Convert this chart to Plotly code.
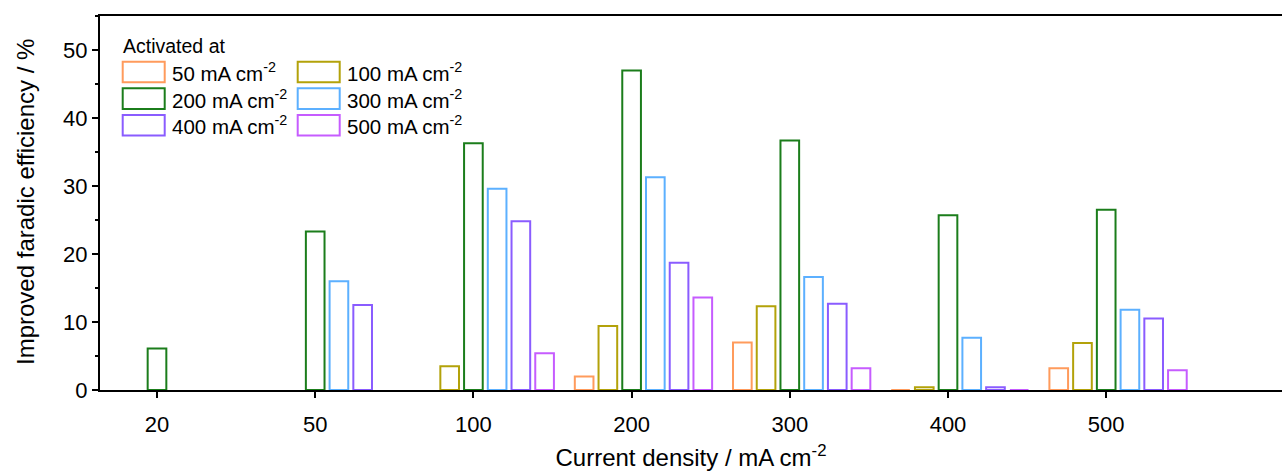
import plotly.graph_objects as go

# ---- data ----
categories = ["20", "50", "100", "200", "300", "400", "500"]
series_names = ["50", "100", "200", "300", "400", "500"]
fe_50 = [None, None, None, 2.0, 7.0, 0.0, 3.2]
fe_100 = [None, None, 3.5, 9.4, 12.3, 0.4, 6.9]
fe_200 = [6.1, 23.3, 36.3, 47.0, 36.7, 25.7, 26.5]
fe_300 = [None, 16.0, 29.6, 31.3, 16.6, 7.7, 11.8]
fe_400 = [None, 12.5, 24.8, 18.7, 12.7, 0.4, 10.5]
fe_500 = [None, None, 5.4, 13.6, 3.2, 0.0, 2.9]
series_values = [fe_50, fe_100, fe_200, fe_300, fe_400, fe_500]
colors = ["#FF9B5C", "#B3A20A", "#1B7D1B", "#5CB0FF", "#8A5CFF", "#C65CFF"]

FONT = "Liberation Sans, Arial, sans-serif"

# layout geometry (pixels)
W, H = 1282, 471
L, T, B = 100, 16, 390
R = W
pitch = 0.15
bw = 0.118

fig = go.Figure()
xs = list(range(len(categories)))
for k, (name, vals, col) in enumerate(zip(series_names, series_values, colors)):
    fig.add_trace(go.Bar(
        x=xs, y=vals, name=name,
        offset=(k - 2) * pitch - bw / 2, width=bw,
        marker=dict(color="rgba(255,255,255,0)", line=dict(color=col, width=2)),
        showlegend=False,
    ))

def px_x(p):
    return (p - L) / (R - L)

def px_y(p):
    return (B - p) / (B - T)

# custom two-column legend
shapes = []
annotations = []
annotations.append(dict(x=px_x(121), y=px_y(46), xref="paper", yref="paper",
                        text="Activated at", showarrow=False, xanchor="left", yanchor="middle",
                        font=dict(family=FONT, size=19.5, color="#000")))
box_x = [122.7, 297.7]
text_x = [170, 345]
row_top = [61.7, 88.3, 115.0]
for k, (name, col) in enumerate(zip(series_names, colors)):
    r, c = divmod(k, 2)
    x0 = box_x[c]
    y0 = row_top[r]
    shapes.append(dict(type="rect", xref="paper", yref="paper",
                       x0=px_x(x0), x1=px_x(x0 + 42), y0=px_y(y0), y1=px_y(y0 + 20.6),
                       line=dict(color=col, width=2), fillcolor="rgba(0,0,0,0)"))
    annotations.append(dict(x=px_x(text_x[c]), y=px_y(y0 + 10.3), xref="paper", yref="paper",
                            text=f"{name} mA cm<sup>-2</sup>", showarrow=False,
                            xanchor="left", yanchor="middle",
                            font=dict(family=FONT, size=20.5, color="#000")))

# y-axis title as rotated annotation
annotations.append(dict(x=px_x(25), y=px_y(202), xref="paper", yref="paper",
                        text="Improved faradic efficiency / %", showarrow=False,
                        textangle=-90, xanchor="center", yanchor="middle",
                        font=dict(family=FONT, size=24, color="#000")))

spacing = 158.2
x0pos = 157.0
fig.update_layout(
    width=W, height=H,
    margin=dict(l=L, r=0, t=T, b=H - B, pad=0),
    paper_bgcolor="white", plot_bgcolor="white",
    barmode="overlay",
    shapes=shapes, annotations=annotations,
    font=dict(family=FONT, color="#000"),
    xaxis=dict(
        range=[(L - x0pos) / spacing, (R - x0pos) / spacing],
        tickmode="array", tickvals=xs, ticktext=categories,
        showline=True, linecolor="#000", linewidth=2, mirror=True,
        ticks="outside", ticklen=6, tickwidth=1.5, tickcolor="#000",
        showgrid=False, zeroline=False,
        tickfont=dict(family=FONT, size=22),
        ticklabelstandoff=8,
        title=dict(text="Current density / mA cm<sup>-2</sup>",
                   font=dict(family=FONT, size=24), standoff=13),
    ),
    yaxis=dict(
        range=[0, 55],
        tickmode="array", tickvals=[0, 10, 20, 30, 40, 50],
        showline=True, linecolor="#000", linewidth=2, mirror=False,
        ticks="outside", ticklen=6, tickwidth=1.5, tickcolor="#000",
        minor=dict(tickvals=[5, 15, 25, 35, 45, 55], ticks="outside", ticklen=3, tickwidth=1.5, tickcolor="#000"),
        showgrid=False, zeroline=False,
        tickfont=dict(family=FONT, size=22),
    ),
)

fig.write_html("out.html")
